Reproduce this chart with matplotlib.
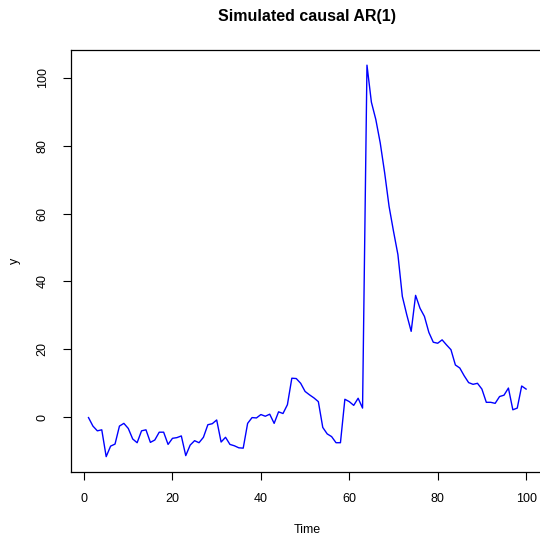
import numpy as np
import matplotlib
matplotlib.use("Agg")
import matplotlib.pyplot as plt

plt.rcParams['font.family'] = ['Liberation Sans', 'DejaVu Sans']

title = "Simulated causal AR(1)"
xlabel = "Time"
ylabel = "y"

y_values = [
    -0.1, -2.6, -4.0, -3.7, -11.6, -8.5, -7.9, -2.6, -1.8, -3.3,
    -6.4, -7.5, -4.0, -3.7, -7.4, -6.7, -4.4, -4.4, -8.0, -6.2,
    -6.0, -5.5, -11.3, -8.2, -6.9, -7.5, -5.9, -2.2, -1.9, -0.8,
    -7.3, -5.9, -8.0, -8.4, -9.0, -9.1, -1.8, -0.1, -0.2, 0.8,
    0.3, 0.9, -1.8, 1.6, 1.1, 3.7, 11.5, 11.4, 10.0, 7.6,
    6.6, 5.7, 4.6, -3.0, -4.9, -5.7, -7.5, -7.5, 5.3, 4.6,
    3.5, 5.6, 2.7, 103.7, 92.8, 87.7, 80.8, 72.0, 62.1, 54.8,
    47.9, 35.6, 30.2, 25.3, 35.9, 32.1, 29.7, 25.0, 22.1, 21.8,
    22.8, 21.3, 19.9, 15.4, 14.5, 12.2, 10.2, 9.7, 10.0, 8.3,
    4.4, 4.4, 4.1, 6.1, 6.5, 8.6, 2.2, 2.7, 9.2, 8.3,
]
time = np.arange(1, len(y_values) + 1)
xticks = [0, 20, 40, 60, 80, 100]
yticks = [0, 20, 40, 60, 80, 100]

W, H = 540, 542
fig = plt.figure(figsize=(W / 100, H / 100), dpi=100)

left, right, top, bottom = 71, 543.6, 49.5, 472.3
ax = fig.add_axes([left / W, 1 - bottom / H, (right - left) / W, (bottom - top) / H])

ax.plot(time, y_values, color='blue', lw=1.0)

xmin, xmax = time.min(), time.max()
ymin, ymax = min(y_values), max(y_values)
dx = (xmax - xmin) * 0.04
dy = (ymax - ymin) * 0.04
ax.set_xlim(xmin - dx, xmax + dx)
ax.set_ylim(ymin - dy, ymax + dy)

ax.set_xticks(xticks)
ax.set_yticks(yticks)
ax.set_xticklabels([str(t) for t in xticks])
ax.set_yticklabels([str(t) for t in yticks], rotation=90, va='center')

for sp in ax.spines.values():
    sp.set_color('black')
    sp.set_linewidth(0.9)

ax.tick_params(axis='both', direction='out', length=5.5, width=0.8,
               labelsize=9, colors='black')
ax.tick_params(axis='x', pad=9.5)
ax.tick_params(axis='y', pad=10.5)

fig.text(((left + right) / 2) / W, 1 - 16 / H, title, ha='center', va='center',
         fontsize=11.5, fontweight='bold')
fig.text(((left + right) / 2) / W, 1 - 530 / H, xlabel, ha='center', va='center',
         fontsize=9)
fig.text(15 / W, 1 - ((top + bottom) / 2) / H, ylabel, ha='center', va='center',
         fontsize=9, rotation=90)

fig.savefig("out.png", dpi=100)
